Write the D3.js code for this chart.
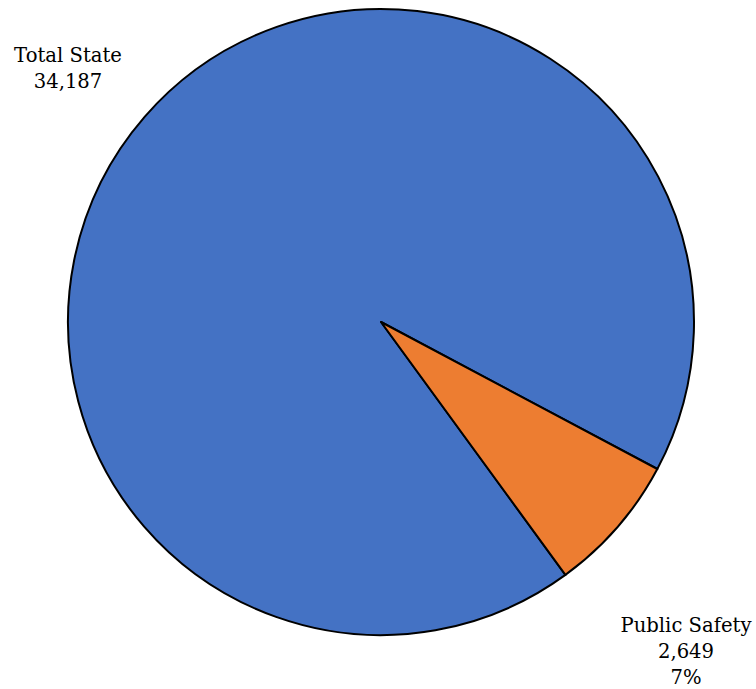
<!DOCTYPE html>
<html>
<head>
<meta charset="utf-8">
<script src="https://cdn.jsdelivr.net/npm/d3@7"></script>
<style>
html,body{margin:0;padding:0;background:#fff;}
svg{display:block;}
</style>
</head>
<body>
<svg id="chart" width="756" height="689"></svg>
<script>
const categories = ["Total State", "Public Safety"];
const values = [34187, 2649];
const labelLines = [["Total State", "34,187"], ["Public Safety", "2,649", "7%"]];
const colors = ["#4472C4", "#ED7D31"];

const svg = d3.select("#chart");
const cx = 381, cy = 322, r = 313;
const startDeg = 143.9;

const pie = d3.pie().sort(null)
  .startAngle(startDeg * Math.PI / 180)
  .endAngle(startDeg * Math.PI / 180 + 2 * Math.PI);
const arcs = pie(values);
const arc = d3.arc().innerRadius(0).outerRadius(r);

const g = svg.append("g").attr("transform", `translate(${cx},${cy})`);
g.selectAll("path").data(arcs).enter().append("path")
  .attr("d", arc)
  .attr("fill", (d, i) => colors[i])
  .attr("stroke", "#000")
  .attr("stroke-width", 2)
  .attr("stroke-linejoin", "round");

const labelPos = [{x: 68, y: 62}, {x: 686, y: 632}];
const lineH = 25.8;
labelLines.forEach((lines, i) => {
  const t = svg.append("text")
    .attr("text-anchor", "middle")
    .attr("font-family", "'DejaVu Serif', serif")
    .attr("font-size", 19.6)
    .attr("fill", "#000");
  lines.forEach((s, j) => {
    t.append("tspan").attr("x", labelPos[i].x).attr("y", labelPos[i].y + j * lineH).text(s);
  });
});
</script>
</body>
</html>
